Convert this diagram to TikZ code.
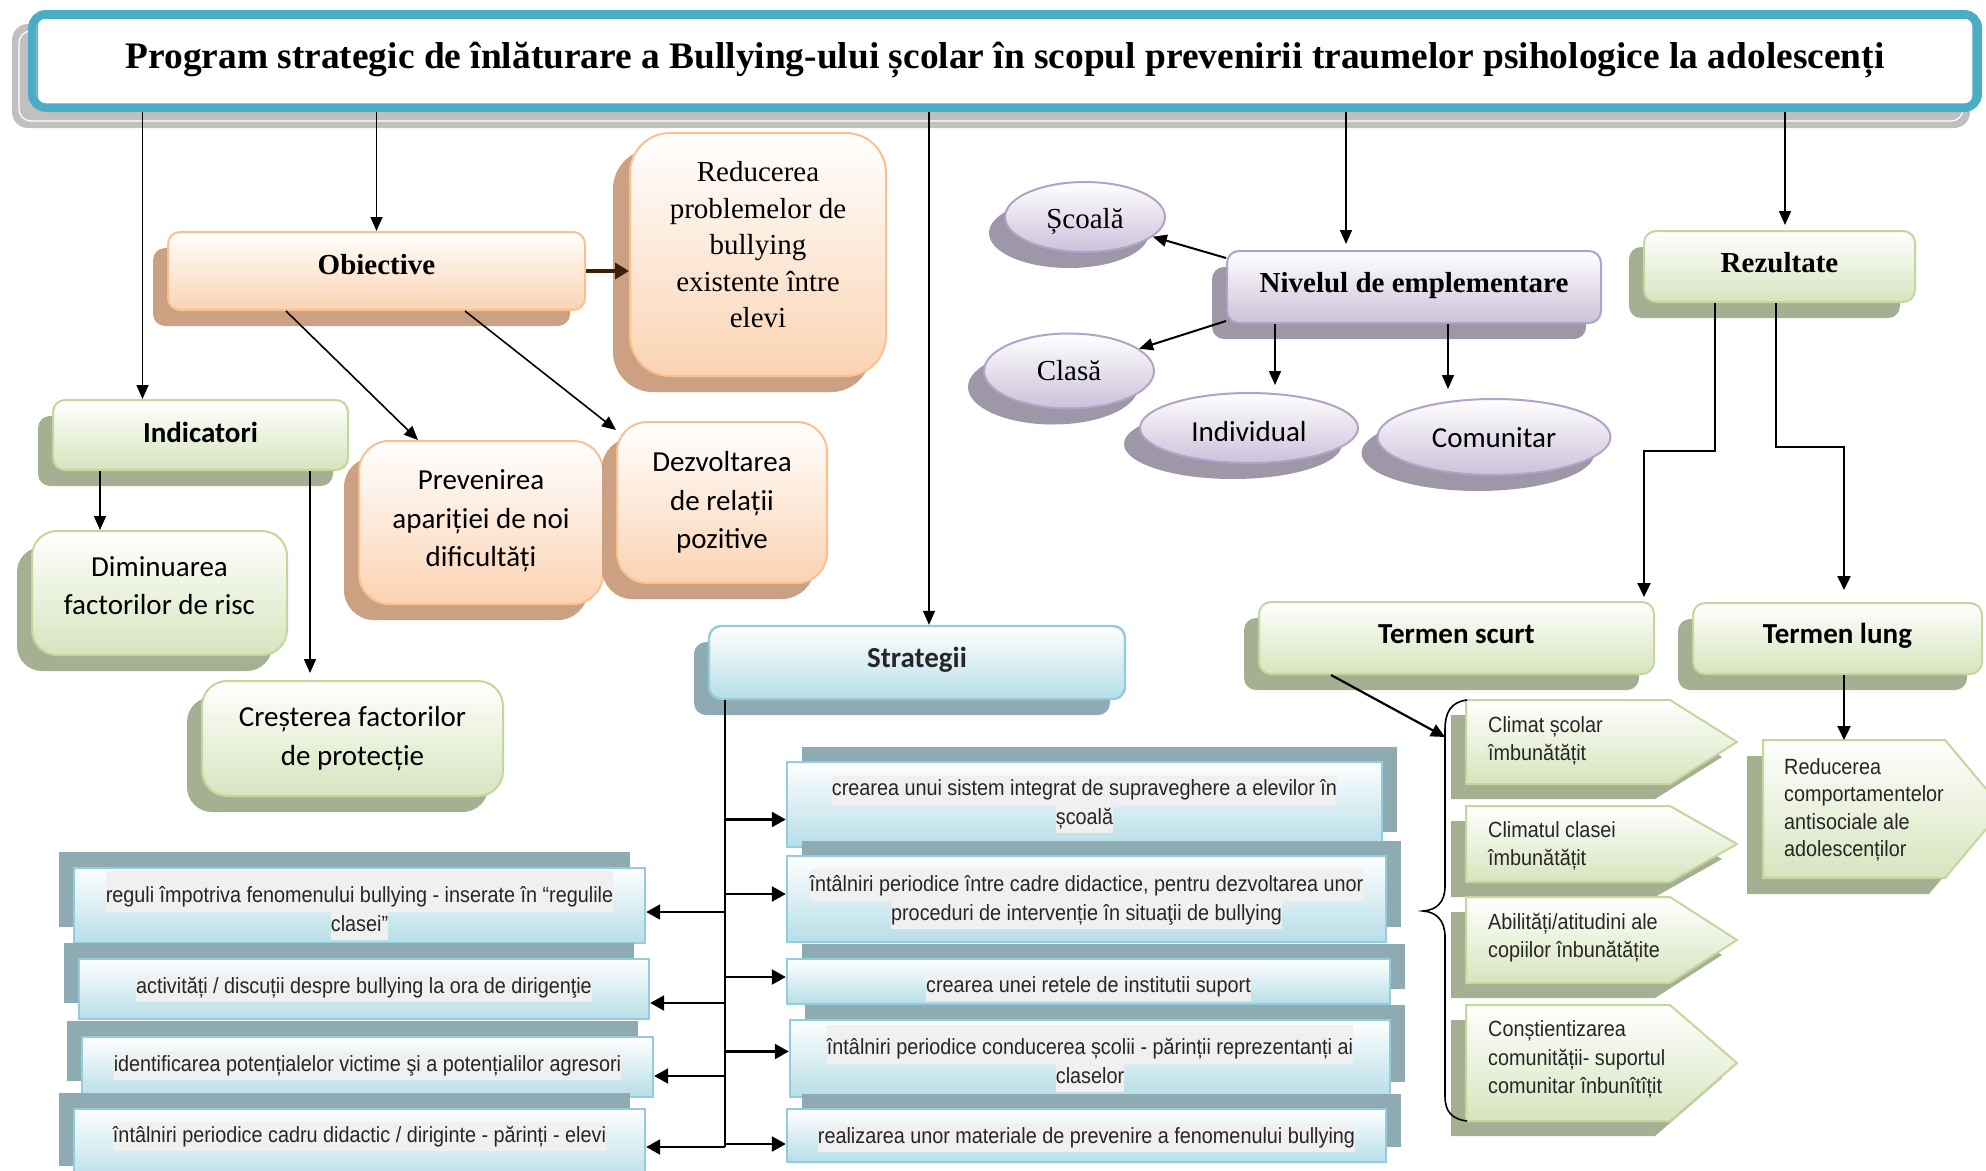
\documentclass[tikz,border=0pt]{standalone}
\usepackage{fontspec}
\setmainfont{Liberation Serif}
\newfontfamily\calfont{Carlito}
\newfontfamily\narfont[FakeStretch=0.9]{Liberation Sans}
\usetikzlibrary{shapes.geometric,shadows,arrows.meta,calc}
\definecolor{cyanT}{HTML}{4BACC6}
\definecolor{ttlSh}{HTML}{C0C0C0}
\definecolor{orB}{HTML}{FAC090}
\definecolor{orF}{HTML}{FBD3B2}
\definecolor{orS}{HTML}{CBA083}
\definecolor{grB}{HTML}{C3D69B}
\definecolor{grF}{HTML}{D7E4BD}
\definecolor{grS}{HTML}{A5B092}
\definecolor{puB}{HTML}{B3A2C7}
\definecolor{puF}{HTML}{CCC1DA}
\definecolor{puS}{HTML}{9E97A8}
\definecolor{blB}{HTML}{92CDDC}
\definecolor{blF}{HTML}{B7DEE8}
\definecolor{blS}{HTML}{8EAAB3}
\definecolor{hlgray}{HTML}{F0F0F0}
\definecolor{txt}{HTML}{262626}
\definecolor{brn}{HTML}{3D1F06}
\newcommand\hl[1]{{\setlength{\fboxsep}{0pt}\colorbox{hlgray}{\strut #1}}}
\newcommand\up[2]{\raisebox{#1}[\height][\depth]{#2}}
\newcommand\sigbox[5]{%
  \fill[grS] ({#1-15},{#2+15}) -- ({#3-15},{#2+15}) -- ({#5-15},{(#2+#4)/2+15}) -- ({#3-15},{#4+15}) -- ({#1-15},{#4+15}) -- cycle;
  \path[draw=grB, line width=2pt, top color=white, bottom color=grF] (#1,#2) -- (#3,#2) -- (#5,{(#2+#4)/2}) -- (#3,#4) -- (#1,#4) -- cycle;}
\tikzset{
  base/.style={inner sep=0pt, align=center, line width=2pt},
  tbf/.style={font=\fontsize{29}{36.5}\selectfont\bfseries},
  trm/.style={font=\fontsize{29}{36.5}\selectfont},
  cbf/.style={font=\calfont\fontsize{29}{38}\selectfont\bfseries},
  crm/.style={font=\calfont\fontsize{29}{38.5}\selectfont},
  nrm/.style={font=\narfont\fontsize{22}{28.5}\selectfont, text=txt},
  obox/.style={base, rounded corners=12pt, draw=orB, top color=white, bottom color=orF,
    general shadow={shadow xshift=-15pt, shadow yshift=-16pt, fill=orS}},
  gbox/.style={base, rounded corners=12pt, draw=grB, top color=white, bottom color=grF,
    general shadow={shadow xshift=-15pt, shadow yshift=-16pt, fill=grS}},
  pbox/.style={base, rounded corners=12pt, draw=puB, top color=white, bottom color=puF,
    general shadow={shadow xshift=-15pt, shadow yshift=-16pt, fill=puS}},
  pell/.style={base, ellipse, draw=puB, top color=white, bottom color=puF,
    general shadow={shadow xshift=-16pt, shadow yshift=-16pt, fill=puS}},
  bbox/.style={base, nrm, draw=blB, line width=2.4pt, top color=white, bottom color=blF},
  rbox/.style={bbox, general shadow={shadow xshift=15pt, shadow yshift=15pt, fill=blS}},
  lbox/.style={bbox, general shadow={shadow xshift=-15pt, shadow yshift=16pt, fill=blS}},
  cbox/.style={base, bbox, rounded corners=12pt, general shadow={shadow xshift=-15pt, shadow yshift=-16pt, fill=blS}},
  arr/.style={line width=1.6pt, -{Triangle[length=14pt,width=12pt]}},
  barr/.style={line width=2.2pt, -{Triangle[length=14pt,width=13pt]}},
  sarr/.style={line width=2.4pt, -{Triangle[length=14pt,width=15pt]}},
  sline/.style={line width=1.8pt},
  sigtxt/.style={nrm, align=left, inner sep=0pt, anchor=west},
  ttl/.style={draw=cyanT, line width=8pt, fill=white, rounded corners=14pt, minimum width=1946pt, minimum height=94pt, inner sep=0pt,
    font=\fontsize{37.4}{42}\selectfont\bfseries}
}
\begin{document}
\begin{tikzpicture}[x=1pt,y=-1pt]
\useasboundingbox (0,0) rectangle (1986,1170);
% title
\fill[ttlSh, rounded corners=16pt] (12,24) rectangle (1970,128);
\draw[white, line width=1.2pt, rounded corners=12pt] (19,31) rectangle (1963,121);
\node[ttl] (title) at (1005,61) {\up{1pt}{Program strategic de înlăturare a Bullying-ului școlar în scopul prevenirii traumelor psihologice la adolescenți}};
\draw[cyanT, line width=1.5pt, rounded corners=8pt] ([shift={(9,8)}]title.north west) rectangle ([shift={(-9,-8)}]title.south east);

% Obiective group
\node[obox, tbf, minimum width=417pt, minimum height=78pt] (obj) at (376.5,271) {\up{6pt}{Obiective}};
\node[obox, trm, rounded corners=40pt, minimum width=256pt, minimum height=243pt,
  general shadow={shadow xshift=-17pt, shadow yshift=-16pt, fill=orS}] (red) at (758,254.5)
  {Reducerea\\problemelor de\\bullying\\existente între\\elevi\\[-17pt]};
\node[obox, crm, rounded corners=30pt, minimum width=244pt, minimum height=163pt] (prev) at (481,522.5)
  {Prevenirea\\apariției de noi\\dificultăți\\[-30.5pt]};
\node[obox, crm, rounded corners=30pt, minimum width=210pt, minimum height=161pt,
  general shadow={shadow xshift=-13pt, shadow yshift=-15pt, fill=orS}] (dez) at (722,502.5)
  {Dezvoltarea\\de relații\\pozitive};

% Indicatori group
\node[gbox, cbf, minimum width=295pt, minimum height=70pt] (ind) at (200.5,435) {\up{3pt}{Indicatori}};
\node[gbox, crm, rounded corners=25pt, minimum width=255pt, minimum height=124pt] (dim) at (159.5,593)
  {Diminuarea\\factorilor de risc\\[-23.5pt]};
\node[gbox, crm, rounded corners=25pt, minimum width=301pt, minimum height=115pt] (cre) at (352.5,738.5)
  {Creșterea factorilor\\de protecție};

% Nivelul group
\node[pbox, tbf, minimum width=374pt, minimum height=72pt] (niv) at (1414,287) {\up{1pt}{Nivelul de emplementare}};
\node[pell, trm, minimum width=160pt, minimum height=70pt] (sco) at (1085,217) {\up{-5pt}{Școală}};
\node[pell, trm, minimum width=170pt, minimum height=75pt] (cla) at (1069,371) {Clasă};
\node[pell, crm, minimum width=218pt, minimum height=70pt] (indiv) at (1249,428) {\up{-4pt}{Individual}};
\node[pell, crm, minimum width=233pt, minimum height=76pt] (com) at (1494,437) {\up{-1pt}{Comunitar}};

% Rezultate group
\node[gbox, tbf, minimum width=271pt, minimum height=71pt] (rez) at (1779.5,266.5) {\up{4pt}{Rezultate}};
\node[gbox, cbf, minimum width=395pt, minimum height=72pt] (ts) at (1456.5,638) {\up{4pt}{Termen scurt}};
\node[gbox, cbf, minimum width=289pt, minimum height=71pt] (tl) at (1837.5,638.5) {\up{3pt}{Termen lung}};

% signal boxes
\sigbox{1466}{700}{1670}{784}{1737}
\node[sigtxt] (s1) at (1488,741) {Climat școlar\\îmbunătățit};
\sigbox{1466}{806}{1670}{882}{1737}
\node[sigtxt] (s2) at (1488,846) {Climatul clasei\\îmbunătățit};
\sigbox{1466}{897}{1670}{983}{1737}
\node[sigtxt] (s3) at (1488,937.5) {Abilități/atitudini ale\\copiilor înbunătățite};
\sigbox{1466}{1005}{1670}{1121}{1737}
\node[sigtxt] (s4) at (1488,1059.5) {Conștientizarea\\comunității- suportul\\comunitar înbunîtîțit};
\fill[grS] (1747,756) -- (1929,756) -- (1987,825) -- (1929,894) -- (1747,894) -- cycle;
\path[draw=grB, line width=2pt, top color=white, bottom color=grF] (1763,740) -- (1945,740) -- (2003,809) -- (1945,878) -- (1763,878) -- cycle;
\node[sigtxt, font=\narfont\fontsize{22}{27.5}\selectfont] (rc) at (1784,810) {Reducerea\\comportamentelor\\antisociale ale\\adolescenților};
\coordinate (rctop) at (1844,740);

% brace
\draw[line width=1.6pt] (1467,700) .. controls (1451,702) and (1445,712) .. (1445,730) -- (1445,886)
  .. controls (1445,903) and (1436,910) .. (1423,911) .. controls (1436,912) and (1445,920) .. (1445,937)
  -- (1445,1096) .. controls (1445,1112) and (1452,1119) .. (1467,1121);
\coordinate (bt) at (1445,737);

% Strategii
\node[cbox, cbf, minimum width=416pt, minimum height=73pt] (str) at (917,662.5) {\up{3pt}{Strategii}};
\node[rbox, minimum width=595pt, minimum height=85pt] (r1) at (1084.5,804.5)
  {\hl{crearea unui sistem integrat de supraveghere a elevilor în}\\\hl{școală}};
\node[rbox, minimum width=599pt, minimum height=86pt] (r2) at (1086.5,899)
  {\hl{\rule{0pt}{23pt}întâlniri periodice între cadre didactice, pentru dezvoltarea unor}\\\hl{proceduri de intervenție în situaţii de bullying}};
\node[rbox, minimum width=603pt, minimum height=45pt] (r3) at (1088.5,981.5)
  {\up{-5pt}{\hl{crearea unei retele de institutii suport}}};
\node[rbox, minimum width=600pt, minimum height=77pt] (r4) at (1090,1058.5)
  {\hl{\rule{0pt}{30pt}întâlniri periodice conducerea școlii - părinții reprezentanți ai}\\\hl{claselor}};
\node[rbox, minimum width=599pt, minimum height=53pt] (r5) at (1086.5,1135.5)
  {\up{-2.5pt}{\hl{realizarea unor materiale de prevenire a fenomenului bullying}}};
\node[lbox, minimum width=571pt, minimum height=75pt] (l1) at (359.5,905.5)
  {\hl{\rule{0pt}{32pt}reguli împotriva fenomenului bullying - inserate în “regulile}\\\hl{clasei”}};
\node[lbox, minimum width=570pt, minimum height=60pt] (l2) at (364,989)
  {\up{1pt}{\hl{activități / discuții despre bullying la ora de dirigenţie}}};
\node[lbox, minimum width=571pt, minimum height=60pt] (l3) at (367.5,1067)
  {\up{1pt}{\hl{identificarea potențialelor victime şi a potențialilor agresori}}};
\node[lbox, minimum width=571pt, minimum height=73pt] (l4) at (359.5,1145.5)
  {\up{9pt}{\hl{întâlniri periodice cadru didactic / diriginte - părinți - elevi}}};

% connectors from title
\draw[arr] ([xshift=-58pt]ind.north |- title.south) -- ([xshift=-58pt]ind.north);
\draw[arr] (obj.north |- title.south) -- (obj.north);
\draw[arr] ([xshift=12pt]str.north |- title.south) -- ([xshift=12pt]str.north);
\draw[arr, shorten >=6pt] ([xshift=-68pt]niv.north |- title.south) -- ([xshift=-68pt]niv.north);
\draw[arr, shorten >=5pt] ([xshift=5.5pt]rez.north |- title.south) -- ([xshift=5.5pt]rez.north);

% Obiective connectors
\draw[line width=3.5pt, -{Triangle[length=14pt,width=16pt]}, brn] (obj.east) -- (obj.east -| red.west);
\draw[arr] ([xshift=-90.5pt]obj.south) -- ([xshift=-63pt]prev.north);
\draw[arr] ([xshift=88.5pt]obj.south) -- ([yshift=-9pt]dez.north west);

% Indicatori connectors
\draw[arr] ([xshift=-100.5pt]ind.south) -- ([xshift=-100.5pt]ind.south |- dim.north);
\draw[arr, shorten >=7pt] ([xshift=109.5pt]ind.south) -- ([xshift=109.5pt]ind.south |- cre.north);

% Nivelul connectors
\draw[arr, line width=2pt] ([yshift=-8pt]niv.north west) -- (sco);
\draw[arr, line width=2pt] ([yshift=3pt]niv.south west) -- (cla);
\draw[arr, shorten >=7pt] ([xshift=-139pt]niv.south) -- ([xshift=-139pt]niv.south |- indiv.north);
\draw[arr, shorten >=9pt] ([xshift=34pt]niv.south) -- ([xshift=34pt]niv.south |- com.north);

% Rezultate connectors
\draw[barr] ([xshift=-64.5pt]rez.south) -- ++(0,148) -| ([xshift=187.5pt,yshift=4pt]ts.north);
\draw[barr] ([xshift=-3.5pt]rez.south) -- ++(0,144) -| ([xshift=6.5pt,yshift=12pt]tl.north);
\draw[barr] ([xshift=6.5pt]tl.south) -- (rctop);
\draw[barr] ([xshift=-125.5pt]ts.south) -- (bt);

% Strategii connectors
\coordinate (sp) at (725,1147);
\draw[sline] (sp |- str.south) -- (sp);
\draw[sarr] ([yshift=-15pt]r1.west -| sp) -- ([yshift=-15pt]r1.west);
\draw[sarr] ([yshift=5pt]r2.west -| sp) -- ([yshift=5pt]r2.west);
\draw[sarr] ([yshift=4.5pt]r3.west -| sp) -- ([yshift=4.5pt]r3.west);
\draw[sarr] ([yshift=7pt]r4.west -| sp) -- ([yshift=7pt]r4.west);
\draw[sarr] ([yshift=-8.5pt]r5.west -| sp) -- ([yshift=-8.5pt]r5.west);
\draw[sarr] ([yshift=-6.5pt]l1.east -| sp) -- ([yshift=-6.5pt]l1.east);
\draw[sarr] ([yshift=-14pt]l2.east -| sp) -- ([yshift=-14pt]l2.east);
\draw[sarr] ([yshift=-9pt]l3.east -| sp) -- ([yshift=-9pt]l3.east);
\draw[sarr] ([yshift=-1.5pt]l4.east -| sp) -- ([yshift=-1.5pt]l4.east);
\end{tikzpicture}
\end{document}
